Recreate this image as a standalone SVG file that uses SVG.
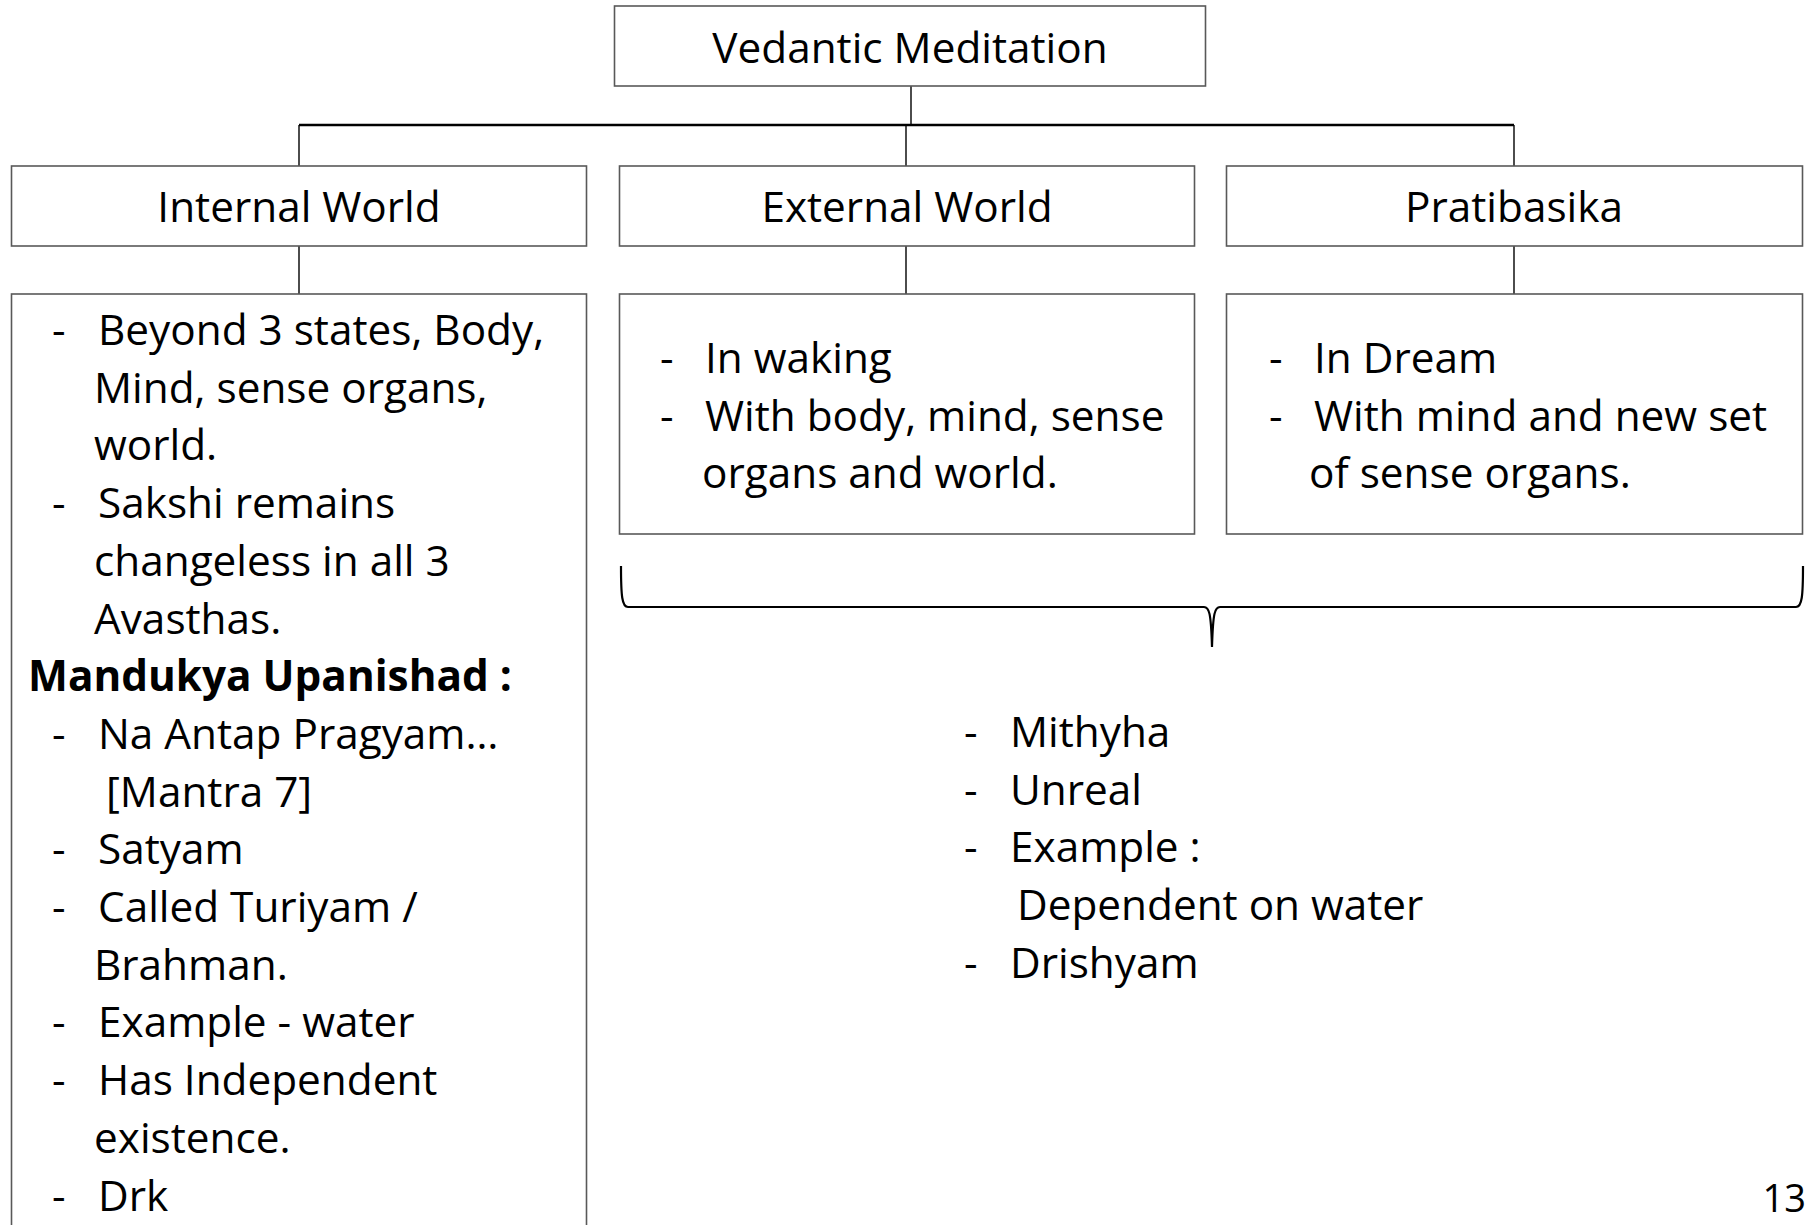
<svg xmlns="http://www.w3.org/2000/svg" width="1810" height="1225" viewBox="0 0 1810 1225">
  <style>
    .box { fill: #ffffff; stroke: #595959; stroke-width: 1.6; }
    .link { fill: none; stroke: #000000; stroke-width: 1.4; }
    .bar { fill: none; stroke: #000000; stroke-width: 2.4; }
    .brace { fill: none; stroke: #000000; stroke-width: 2.2; }
    text { font-family: "Open Sans", "Noto Sans", sans-serif; font-size: 42.3px; fill: #000000; }
    .c { text-anchor: middle; }
    .b { font-weight: bold; }
    .pg { font-size: 38px; text-anchor: end; }
  </style>

  <rect width="1810" height="1225" fill="#ffffff"/>

  <!-- connectors -->
  <g id="connectors">
    <line class="link" x1="911" y1="86" x2="911" y2="125"/>
    <line class="bar" x1="299" y1="125" x2="1514" y2="125"/>
    <line class="link" x1="299" y1="125" x2="299" y2="166"/>
    <line class="link" x1="906" y1="125" x2="906" y2="166"/>
    <line class="link" x1="1514" y1="125" x2="1514" y2="166"/>
    <line class="link" x1="299" y1="246" x2="299" y2="294"/>
    <line class="link" x1="906" y1="246" x2="906" y2="294"/>
    <line class="link" x1="1514" y1="246" x2="1514" y2="294"/>
    <!-- brace gathering the waking and dream columns -->
    <path class="brace" d="M621,566 C621,596 622,607 628,607 L1204,607 C1209,607 1211,612 1212,647 C1213,612 1215,607 1220,607 L1796,607 C1802,607 1803,596 1803,566"/>
  </g>

  <!-- root -->
  <g id="vedantic-meditation">
    <rect class="box" x="614.5" y="6" width="591" height="80"/>
    <text class="c" x="910" y="63">Vedantic Meditation</text>
  </g>

  <!-- second tier -->
  <g id="internal-world">
    <rect class="box" x="11.5" y="166" width="575" height="80"/>
    <text class="c" x="299" y="222">Internal World</text>
  </g>
  <g id="external-world">
    <rect class="box" x="619.5" y="166" width="575" height="80"/>
    <text class="c" x="907" y="222">External World</text>
  </g>
  <g id="pratibasika">
    <rect class="box" x="1226.5" y="166" width="576" height="80"/>
    <text class="c" x="1514" y="222">Pratibasika</text>
  </g>

  <!-- detail boxes -->
  <g id="internal-detail">
    <rect class="box" x="11.5" y="294" width="575" height="960"/>
    <text x="52" y="345">-</text><text x="98" y="345">Beyond 3 states, Body,</text>
    <text x="94" y="402.7">Mind, sense organs,</text>
    <text x="94" y="460.4">world.</text>
    <text x="52" y="518.1">-</text><text x="98" y="518.1">Sakshi remains</text>
    <text x="94" y="575.8">changeless in all 3</text>
    <text x="94" y="633.5">Avasthas.</text>
    <text class="b" x="28" y="691.2">Mandukya Upanishad :</text>
    <text x="52" y="748.9">-</text><text x="98" y="748.9">Na Antap Pragyam…</text>
    <text x="106" y="806.6">[Mantra 7]</text>
    <text x="52" y="864.3">-</text><text x="98" y="864.3">Satyam</text>
    <text x="52" y="922">-</text><text x="98" y="922">Called Turiyam /</text>
    <text x="94" y="979.7">Brahman.</text>
    <text x="52" y="1037.4">-</text><text x="98" y="1037.4">Example - water</text>
    <text x="52" y="1095.1">-</text><text x="98" y="1095.1">Has Independent</text>
    <text x="94" y="1152.8">existence.</text>
    <text x="52" y="1210.5">-</text><text x="98" y="1210.5">Drk</text>
  </g>

  <g id="external-detail">
    <rect class="box" x="619.5" y="294" width="575" height="240"/>
    <text x="660" y="373">-</text><text x="705" y="373">In waking</text>
    <text x="660" y="430.7">-</text><text x="705" y="430.7">With body, mind, sense</text>
    <text x="702" y="488.4">organs and world.</text>
  </g>

  <g id="pratibasika-detail">
    <rect class="box" x="1226.5" y="294" width="576" height="240"/>
    <text x="1269" y="373">-</text><text x="1314" y="373">In Dream</text>
    <text x="1269" y="430.7">-</text><text x="1314" y="430.7">With mind and new set</text>
    <text x="1309" y="488.4">of sense organs.</text>
  </g>

  <!-- common traits under the brace -->
  <g id="mithya-notes">
    <text x="964" y="747">-</text><text x="1010" y="747">Mithyha</text>
    <text x="964" y="804.7">-</text><text x="1010" y="804.7">Unreal</text>
    <text x="964" y="862.4">-</text><text x="1010" y="862.4">Example :</text>
    <text x="1017" y="920.1">Dependent on water</text>
    <text x="964" y="977.8">-</text><text x="1010" y="977.8">Drishyam</text>
  </g>

  <text class="pg" x="1806" y="1212">13</text>
</svg>
